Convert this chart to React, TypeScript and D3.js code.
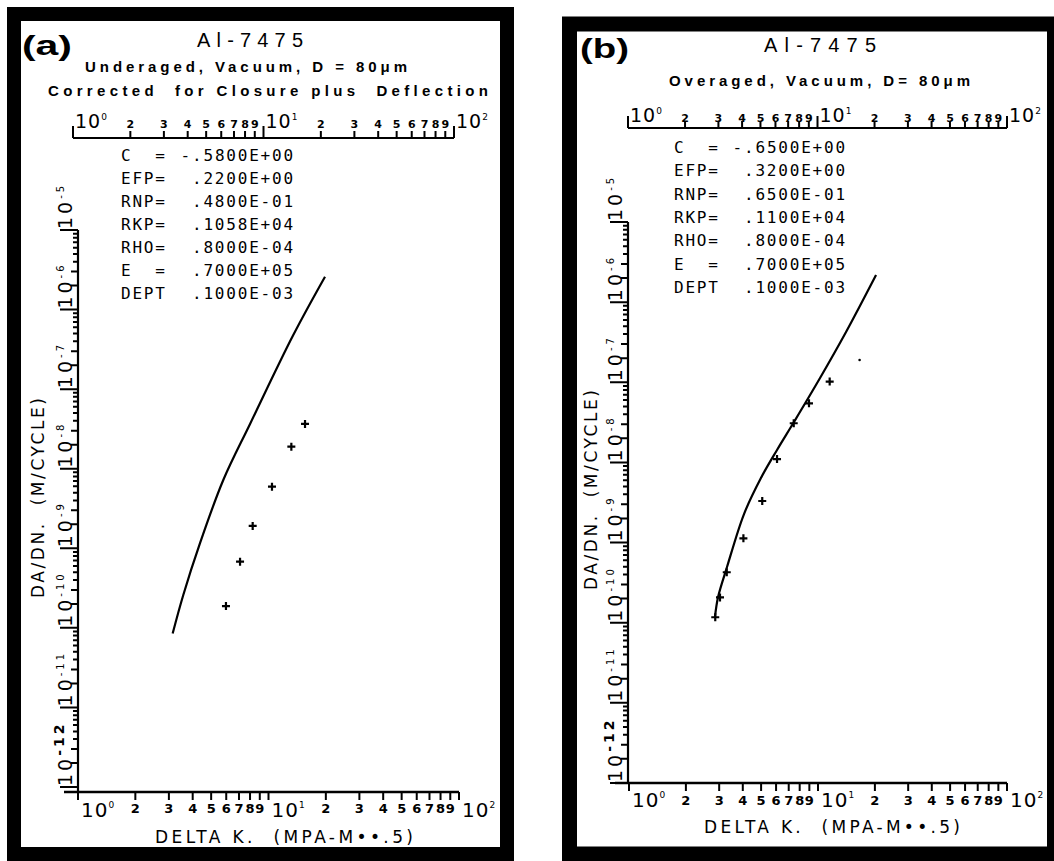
import React from "react";
import * as d3 from "d3";

// ---------- data ----------
const xDecades = [0, 1, 2];
const xMinorDigits = [2, 3, 4, 5, 6, 7, 8, 9];
const yDecades = [-12, -11, -10, -9, -8, -7, -6, -5];

const paramNames = ["C  =", "EFP=", "RNP=", "RKP=", "RHO=", "E  =", "DEPT"];
const paramValuesA = ["-.5800E+00", ".2200E+00", ".4800E-01", ".1058E+04", ".8000E-04", ".7000E+05", ".1000E-03"];
const paramValuesB = ["-.6500E+00", ".3200E+00", ".6500E-01", ".1100E+04", ".8000E-04", ".7000E+05", ".1000E-03"];

// Panel (a) model curve and data
const curveA_K = [3.14, 3.57, 4.37, 5.79, 8.0, 13.49, 19.8];
const curveA_V = [8.5e-11, 2.59e-10, 1.16e-9, 7.21e-9, 3.65e-8, 4.79e-7, 2.59e-6];
const pointsA_K = [5.98, 7.09, 8.26, 10.43, 13.18, 15.55];
const pointsA_V = [1.88e-10, 6.78e-10, 1.91e-9, 5.94e-9, 1.89e-8, 3.65e-8];

// Panel (b) model curve and data
const curveB_K = [2.85, 2.96, 3.3, 4.06, 4.99, 6.07, 7.46, 10.25, 14.07, 20.28];
const curveB_V = [1.18e-10, 2.09e-10, 4.95e-10, 2.27e-9, 6.39e-9, 1.43e-8, 3.19e-8, 1.13e-7, 4.24e-7, 2.18e-6];
const pointsB_K = [2.86, 3.03, 3.29, 4.03, 5.07, 6.07, 7.44, 8.96, 11.53];
const pointsB_V = [1.17e-10, 2.07e-10, 4.26e-10, 1.13e-9, 3.3e-9, 1.1e-8, 3.08e-8, 5.47e-8, 1.02e-7];
const dotB_K = [16.6];
const dotB_V = [1.9e-7];

const titleText = "Al-7475";
const subA = ["Underaged, Vacuum, D = 80\u03bcm", "Corrected  for Closure plus  Deflection"];
const subB = ["Overaged, Vacuum, D= 80\u03bcm"];
const yTitle = "DA/DN.  (M/CYCLE)";
const xTitle = "DELTA K.  (MPA-M\u2022\u2022.5)";

// ---------- helpers ----------
const SANS = "'Liberation Sans', Arial, sans-serif";
const PLOT = "'DejaVu Sans', sans-serif";
const MONO = "'DejaVu Sans Mono', monospace";
const TICK = "#000";

function logTicks(lo: number, hi: number) {
  const out: { v: number; m: number }[] = [];
  for (let e = lo; e < hi; e++) for (let m = 1; m <= 9; m++) out.push({ v: m * Math.pow(10, e), m });
  out.push({ v: Math.pow(10, hi), m: 1 });
  return out;
}

type Cfg = {
  frame: { x: number; y: number; w: number; h: number; sw: number };
  tag: { text: string; x: number; y: number; len: number };
  title: { x: number; y: number; len: number };
  subs: { text: string; x: number; y: number; len: number }[];
  xTop: { r0: number; r1: number; y: number; lab: number };
  xBot: { r0: number; r1: number; y: number; labDec: number; labMin: number };
  yAx: { x: number; top: number; bot: number };
  yTitle: { x: number; yc: number };
  xTitle: { xc: number; y: number; len: number };
  params: { x: number; vx: number; y0: number; dy: number; values: string[] };
};

function Panel(props: {
  cfg: Cfg;
  cK: number[];
  cV: number[];
  pK: number[];
  pV: number[];
  dK?: number[];
  dV?: number[];
}) {
  const { cfg, cK, cV, pK, pV, dK = [], dV = [] } = props;
  const xb = d3.scaleLog().domain([1, 100]).range([cfg.xBot.r0, cfg.xBot.r1]);
  const xt = d3.scaleLog().domain([1, 100]).range([cfg.xTop.r0, cfg.xTop.r1]);
  const y = d3.scaleLog().domain([1e-12, 1e-5]).range([cfg.yAx.bot, cfg.yAx.top]);
  const xticks = logTicks(0, 2);
  const yticks = logTicks(-12, -5);
  const line = d3
    .line<number>()
    .x((_, i) => xb(cK[i]))
    .y((_, i) => y(cV[i]))
    .curve(d3.curveCatmullRom.alpha(0.5));
  const ax = cfg.yAx.x;
  const pitch = 11.4;

  const topTicks = xticks
    .map((t) => `M${xt(t.v)},${cfg.xTop.y}V${cfg.xTop.y - (t.m === 1 ? 12 : 7)}`)
    .join("");
  const botTicks = xticks.map((t) => `M${xb(t.v)},${cfg.xBot.y}V${cfg.xBot.y + 8}`).join("");
  const leftTicks = yticks
    .map((t) => `M${ax},${y(t.v)}H${ax - (t.m === 1 ? 18 : t.m <= 3 ? 7 : 5)}`)
    .join("");

  return (
    <g>
      <rect x={cfg.frame.x} y={cfg.frame.y} width={cfg.frame.w} height={cfg.frame.h} fill="none" stroke="#000" strokeWidth={cfg.frame.sw} />
      <text x={cfg.tag.x} y={cfg.tag.y} fontFamily={SANS} fontWeight="bold" fontSize={28} textLength={cfg.tag.len} lengthAdjust="spacingAndGlyphs">
        {cfg.tag.text}
      </text>
      <text x={cfg.title.x - cfg.title.len / 2} y={cfg.title.y} fontFamily={SANS} fontSize={20} textLength={cfg.title.len} lengthAdjust="spacing">
        {titleText}
      </text>
      {cfg.subs.map((s, i) => (
        <text key={i} x={s.x} y={s.y} fontFamily={SANS} fontWeight="bold" fontSize={15} textLength={s.len} lengthAdjust="spacing" style={{ whiteSpace: "pre" }}>
          {s.text}
        </text>
      ))}

      {/* top ruler */}
      <path d={`M${xt(1)},${cfg.xTop.y}H${xt(100)}`} stroke="#000" strokeWidth={2} fill="none" />
      <path d={topTicks} stroke={TICK} strokeWidth={2} fill="none" />
      {xDecades.map((e) => (
        <text key={"td" + e} x={xt(Math.pow(10, e)) + 2} y={cfg.xTop.y - cfg.xTop.lab} fontFamily={PLOT} fontSize={19} letterSpacing={1}>
          10<tspan dy={-8} fontSize={9}>{e}</tspan>
        </text>
      ))}
      {xDecades.slice(0, 2).map((e) =>
        xMinorDigits.map((m) => (
          <text key={"tm" + e + m} x={xt(m * Math.pow(10, e))} y={cfg.xTop.y - cfg.xTop.lab} textAnchor="middle" fontFamily={PLOT} fontWeight="bold" fontSize={11}>
            {m}
          </text>
        ))
      )}

      {/* bottom axis */}
      <path d={`M${xb(1) - 14},${cfg.xBot.y}H${xb(100)}`} stroke="#000" strokeWidth={2.4} fill="none" />
      <path d={botTicks} stroke={TICK} strokeWidth={2} fill="none" />
      {xDecades.map((e) => (
        <text key={"bd" + e} x={xb(Math.pow(10, e)) + 3} y={cfg.xBot.labDec} fontFamily={PLOT} fontSize={20} letterSpacing={1}>
          10<tspan dy={-9} fontSize={9}>{e}</tspan>
        </text>
      ))}
      {xDecades.slice(0, 2).map((e) =>
        xMinorDigits.map((m) => (
          <text key={"bm" + e + m} x={xb(m * Math.pow(10, e))} y={cfg.xBot.labMin} textAnchor="middle" fontFamily={PLOT} fontWeight="bold" fontSize={13}>
            {m}
          </text>
        ))
      )}
      <text x={cfg.xTitle.xc - cfg.xTitle.len / 2} y={cfg.xTitle.y} fontFamily={PLOT} fontSize={17} textLength={cfg.xTitle.len} lengthAdjust="spacing" style={{ whiteSpace: "pre" }}>
        {xTitle}
      </text>

      {/* y axis */}
      <path d={`M${ax},${cfg.yAx.top}V${cfg.xBot.y}`} stroke="#000" strokeWidth={2.2} fill="none" />
      <path d={leftTicks} stroke={TICK} strokeWidth={2} fill="none" />
      {yDecades.map((e) => (
        <text
          key={"yd" + e}
          transform={`translate(${ax - 6},${y(Math.pow(10, e)) - 1}) rotate(-90)`}
          fontFamily={PLOT}
          fontSize={19}
          letterSpacing={3}
        >
          10<tspan dy={-8} fontSize={e === -12 ? 14 : 10} fontWeight={e === -12 ? "bold" : "normal"}>{"-" + Math.abs(e)}</tspan>
        </text>
      ))}
      <text
        transform={`translate(${cfg.yTitle.x},${cfg.yTitle.yc}) rotate(-90)`}
        x={-100}
        fontFamily={PLOT}
        fontSize={17}
        textLength={200}
        lengthAdjust="spacing"
        style={{ whiteSpace: "pre" }}
      >
        {yTitle}
      </text>

      {/* parameter block */}
      {paramNames.map((n, i) => (
        <g key={"p" + i}>
          <text x={cfg.params.x} y={cfg.params.y0 + i * cfg.params.dy} fontFamily={MONO} fontSize={16} letterSpacing={1.8} style={{ whiteSpace: "pre" }}>
            {n}
          </text>
          <text
            x={cfg.params.vx - (cfg.params.values[i].startsWith("-") ? pitch : 0)}
            y={cfg.params.y0 + i * cfg.params.dy}
            fontFamily={MONO}
            fontSize={16}
            letterSpacing={1.8}
          >
            {cfg.params.values[i]}
          </text>
        </g>
      ))}

      {/* model curve */}
      <path d={line(cK) || ""} fill="none" stroke="#000" strokeWidth={2.2} />
      {/* data points */}
      {pK.map((k, i) => {
        const px = xb(k);
        const py = y(pV[i]);
        return <path key={"pt" + i} d={`M${px - 4},${py}H${px + 4}M${px},${py - 4}V${py + 4}`} stroke="#000" strokeWidth={2.2} />;
      })}
      {dK.map((k, i) => (
        <circle key={"dt" + i} cx={xb(k)} cy={y(dV[i])} r={1.3} fill="#000" />
      ))}
    </g>
  );
}

const cfgA: Cfg = {
  frame: { x: 14, y: 14, w: 493, h: 840, sw: 14 },
  tag: { text: "(a)", x: 22, y: 55, len: 50 },
  title: { x: 250, y: 47, len: 106 },
  subs: [
    { text: subA[0], x: 85, y: 72, len: 322 },
    { text: subA[1], x: 48, y: 96, len: 440 },
  ],
  xTop: { r0: 73, r1: 454, y: 138, lab: 10 },
  xBot: { r0: 78, r1: 459, y: 792, labDec: 817, labMin: 813 },
  yAx: { x: 78, top: 230, bot: 787 },
  yTitle: { x: 44, yc: 498 },
  xTitle: { xc: 284, y: 843, len: 258 },
  params: { x: 121, vx: 192, y0: 161, dy: 23, values: paramValuesA },
};

const cfgB: Cfg = {
  frame: { x: 569.5, y: 24, w: 485, h: 830, sw: 15 },
  tag: { text: "(b)", x: 580, y: 58, len: 49 },
  title: { x: 820, y: 52, len: 112 },
  subs: [{ text: subB[0], x: 669, y: 86, len: 301 }],
  xTop: { r0: 628, r1: 1007, y: 128, lab: 6 },
  xBot: { r0: 629, r1: 1007, y: 783, labDec: 807, labMin: 805 },
  yAx: { x: 628, top: 222, bot: 783 },
  yTitle: { x: 597, yc: 490 },
  xTitle: { xc: 832, y: 833, len: 256 },
  params: { x: 674, vx: 744, y0: 153, dy: 23.3, values: paramValuesB },
};

export default function App() {
  return (
    <svg width={1054} height={861} style={{ position: "absolute", left: 0, top: 0, background: "#fff" }}>
      <rect x={0} y={0} width={1054} height={861} fill="#fff" />
      <Panel cfg={cfgA} cK={curveA_K} cV={curveA_V} pK={pointsA_K} pV={pointsA_V} />
      <Panel cfg={cfgB} cK={curveB_K} cV={curveB_V} pK={pointsB_K} pV={pointsB_V} dK={dotB_K} dV={dotB_V} />
    </svg>
  );
}
